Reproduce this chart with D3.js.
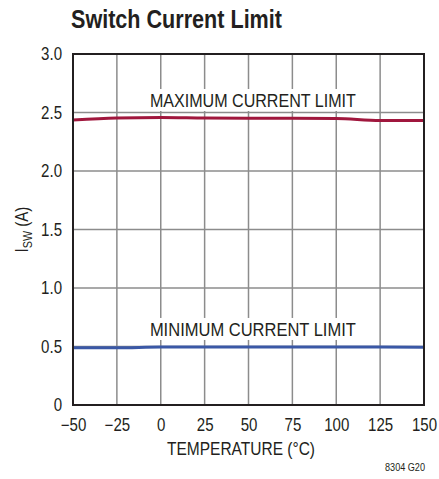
<!DOCTYPE html>
<html>
<head>
<meta charset="utf-8">
<script src="https://cdn.jsdelivr.net/npm/d3@7"></script>
<style>
  body { margin: 0; background: #fff; }
  text { font-family: "Liberation Sans", Arial, sans-serif; fill: #231f20; }
</style>
</head>
<body>
<script>
const width = 439
const height = 479
const margin = { top: 54, right: 15, bottom: 74, left: 73 }

// data
const temps = [-50, -25, 0, 25, 50, 75, 100, 125, 150]
const maxLimit = [2.435, 2.452, 2.457, 2.452, 2.45, 2.45, 2.448, 2.432, 2.432]
const minLimit = [0.49, 0.49, 0.495, 0.495, 0.495, 0.495, 0.495, 0.495, 0.493]
const xTicks = [-50, -25, 0, 25, 50, 75, 100, 125, 150]
const yTicks = [0, 0.5, 1.0, 1.5, 2.0, 2.5, 3.0]

const svg = d3.select('body').append('svg')
    .attr('width', width)
    .attr('height', height)

// squeeze a text to look like a condensed face
const condense = (sel, ratio) => sel.each(function () {
    const len = this.getComputedTextLength()
    d3.select(this).attr('textLength', len * ratio).attr('lengthAdjust', 'spacingAndGlyphs')
})

const xScale = d3.scaleLinear()
    .domain([-50, 150])
    .range([margin.left, width - margin.right])

const yScale = d3.scaleLinear()
    .domain([0, 3])
    .range([height - margin.bottom, margin.top])

// grid
svg.append('g')
    .selectAll('line')
    .data(xTicks.slice(1, -1))
    .join('line')
    .attr('x1', d => xScale(d)).attr('x2', d => xScale(d))
    .attr('y1', yScale(0)).attr('y2', yScale(3))
    .attr('stroke', '#8c8c8c')
    .attr('stroke-width', 1.5)

svg.append('g')
    .selectAll('line')
    .data(yTicks.slice(1, -1))
    .join('line')
    .attr('x1', xScale(-50)).attr('x2', xScale(150))
    .attr('y1', d => yScale(d)).attr('y2', d => yScale(d))
    .attr('stroke', '#8c8c8c')
    .attr('stroke-width', 1.5)

// label boxes hide the grid
const labels = [
    { text: 'MAXIMUM CURRENT LIMIT', y: 2.547 },
    { text: 'MINIMUM CURRENT LIMIT', y: 0.59 }
]
svg.selectAll('rect.lbl')
    .data(labels)
    .join('rect')
    .attr('class', 'lbl')
    .attr('x', xScale(-9))
    .attr('width', xScale(116) - xScale(-9))
    .attr('y', d => yScale(d.y) - 18)
    .attr('height', 22)
    .attr('fill', '#fff')

svg.selectAll('text.lbl')
    .data(labels)
    .join('text')
    .attr('class', 'lbl')
    .attr('x', xScale(52.5))
    .attr('y', d => yScale(d.y))
    .attr('text-anchor', 'middle')
    .attr('font-size', 18.5)
    .attr('textLength', 206)
    .attr('lengthAdjust', 'spacingAndGlyphs')
    .text(d => d.text)

// curves
const line = d3.line()
    .x((d, i) => xScale(temps[i]))
    .y(d => yScale(d))
    .curve(d3.curveMonotoneX)

svg.append('path')
    .attr('d', line(maxLimit))
    .attr('fill', 'none')
    .attr('stroke', '#a0173d')
    .attr('stroke-width', 3)

svg.append('path')
    .attr('d', line(minLimit))
    .attr('fill', 'none')
    .attr('stroke', '#3a58a6')
    .attr('stroke-width', 3)

// frame
svg.append('rect')
    .attr('x', xScale(-50))
    .attr('y', yScale(3))
    .attr('width', xScale(150) - xScale(-50))
    .attr('height', yScale(0) - yScale(3))
    .attr('fill', 'none')
    .attr('stroke', '#231f20')
    .attr('stroke-width', 2)

// axes
const xAxis = d3.axisBottom(xScale)
    .tickValues(xTicks)
    .tickSize(0)
    .tickPadding(14)
    .tickFormat(d => d < 0 ? '\u2212' + Math.abs(d) : d)

svg.append('g')
    .attr('transform', 'translate(0,' + yScale(0) + ')')
    .call(xAxis)
    .call(g => g.select('.domain').remove())
    .selectAll('text')
    .attr('font-size', 17.5)
    .attr('fill', '#231f20')
    .call(condense, 0.86)

const yAxis = d3.axisLeft(yScale)
    .tickValues(yTicks)
    .tickSize(0)
    .tickPadding(11)
    .tickFormat(d => d === 0 ? '0' : d3.format('.1f')(d))

svg.append('g')
    .attr('transform', 'translate(' + xScale(-50) + ',0)')
    .call(yAxis)
    .call(g => g.select('.domain').remove())
    .selectAll('text')
    .attr('font-size', 17.5)
    .attr('fill', '#231f20')
    .call(condense, 0.86)

// titles
svg.append('text')
    .attr('x', 71)
    .attr('y', 28)
    .attr('font-size', 25)
    .attr('font-weight', 'bold')
    .attr('textLength', 211)
    .attr('lengthAdjust', 'spacingAndGlyphs')
    .text('Switch Current Limit')

svg.append('text')
    .attr('x', 241)
    .attr('y', 455)
    .attr('text-anchor', 'middle')
    .attr('font-size', 18.5)
    .attr('textLength', 148)
    .attr('lengthAdjust', 'spacingAndGlyphs')
    .text('TEMPERATURE (\u00b0C)')

const yt = svg.append('text')
    .attr('transform', 'translate(28,' + yScale(1.5) + ') rotate(-90)')
    .attr('text-anchor', 'middle')
    .attr('font-size', 17.5)
yt.append('tspan').text('I')
yt.append('tspan').attr('font-size', 12.5).attr('dy', 4).text('SW')
yt.append('tspan').attr('dy', -4).text(' (A)')
yt.call(condense, 0.86)

svg.append('text')
    .attr('x', 425)
    .attr('y', 471)
    .attr('text-anchor', 'end')
    .attr('font-size', 11)
    .attr('textLength', 40)
    .attr('lengthAdjust', 'spacingAndGlyphs')
    .text('8304 G20')
</script>
</body>
</html>
